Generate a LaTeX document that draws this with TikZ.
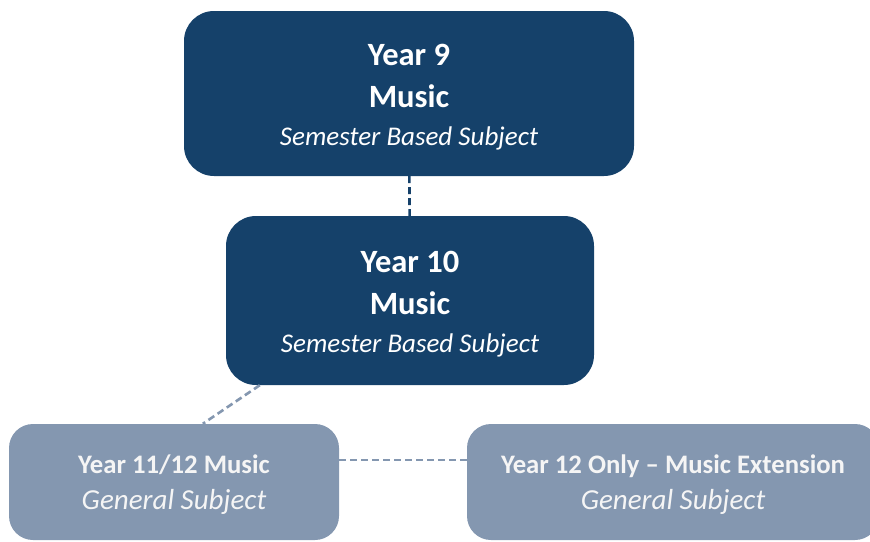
\documentclass[tikz,border=0pt]{standalone}
\usepackage{fontspec}
\setmainfont{Carlito}
\usepackage{xcolor}
\usetikzlibrary{positioning}

\definecolor{navy}{HTML}{15416A}
\definecolor{slate}{HTML}{8497B0}

\tikzset{
	darkbox/.style={fill=navy, text=white, rounded corners=30pt, align=center, inner sep=0pt},
	lightbox/.style={fill=slate, text=white!96!black, rounded corners=24pt, align=center, inner sep=0pt},
	link/.style={line width=2.6pt, dash pattern=on 7pt off 4pt},
}

\begin{document}
\begin{tikzpicture}[x=1pt, y=-1pt]
		\useasboundingbox (0,0) rectangle (870,541);
		\node[darkbox, minimum width=450pt, minimum height=165pt, font=\fontsize{32.5}{38}\selectfont] (y9) at (409,93.5)
			{\rule{0pt}{29pt}\textbf{Year 9}\\[4pt]\textbf{Music}\\\textit{\fontsize{27}{38}\selectfont Semester Based Subject}};
		\node[darkbox, minimum width=368pt, minimum height=169pt, font=\fontsize{32.5}{38}\selectfont] (y10) at (410,300.5)
			{\rule{0pt}{29pt}\textbf{Year 10}\\[4pt]\textbf{Music}\\\textit{\fontsize{27}{38}\selectfont Semester Based Subject}};
		\node[lightbox, minimum width=330pt, minimum height=116pt, font=\fontsize{26.7}{36}\selectfont] (y11) at (174,482)
			{\rule{0pt}{24pt}\textbf{Year 11/12 Music}\\\textit{\fontsize{29}{36}\selectfont General Subject}};
		\node[lightbox, minimum width=412pt, minimum height=116pt, font=\fontsize{26.7}{36}\selectfont] (ext) at (673,482)
			{\rule{0pt}{24pt}\textbf{Year 12 Only -- Music Extension}\\\textit{\fontsize{29}{36}\selectfont General Subject}};
		\draw[link, navy] (y9) -- (y10);
		\draw[link, slate] ([xshift=34pt]y10.south west) -- ([xshift=194pt]y11.north west);
		\draw[link, slate] ([yshift=22pt]y11.east) -- ([yshift=22pt]ext.west);
	\end{tikzpicture}
\end{document}
